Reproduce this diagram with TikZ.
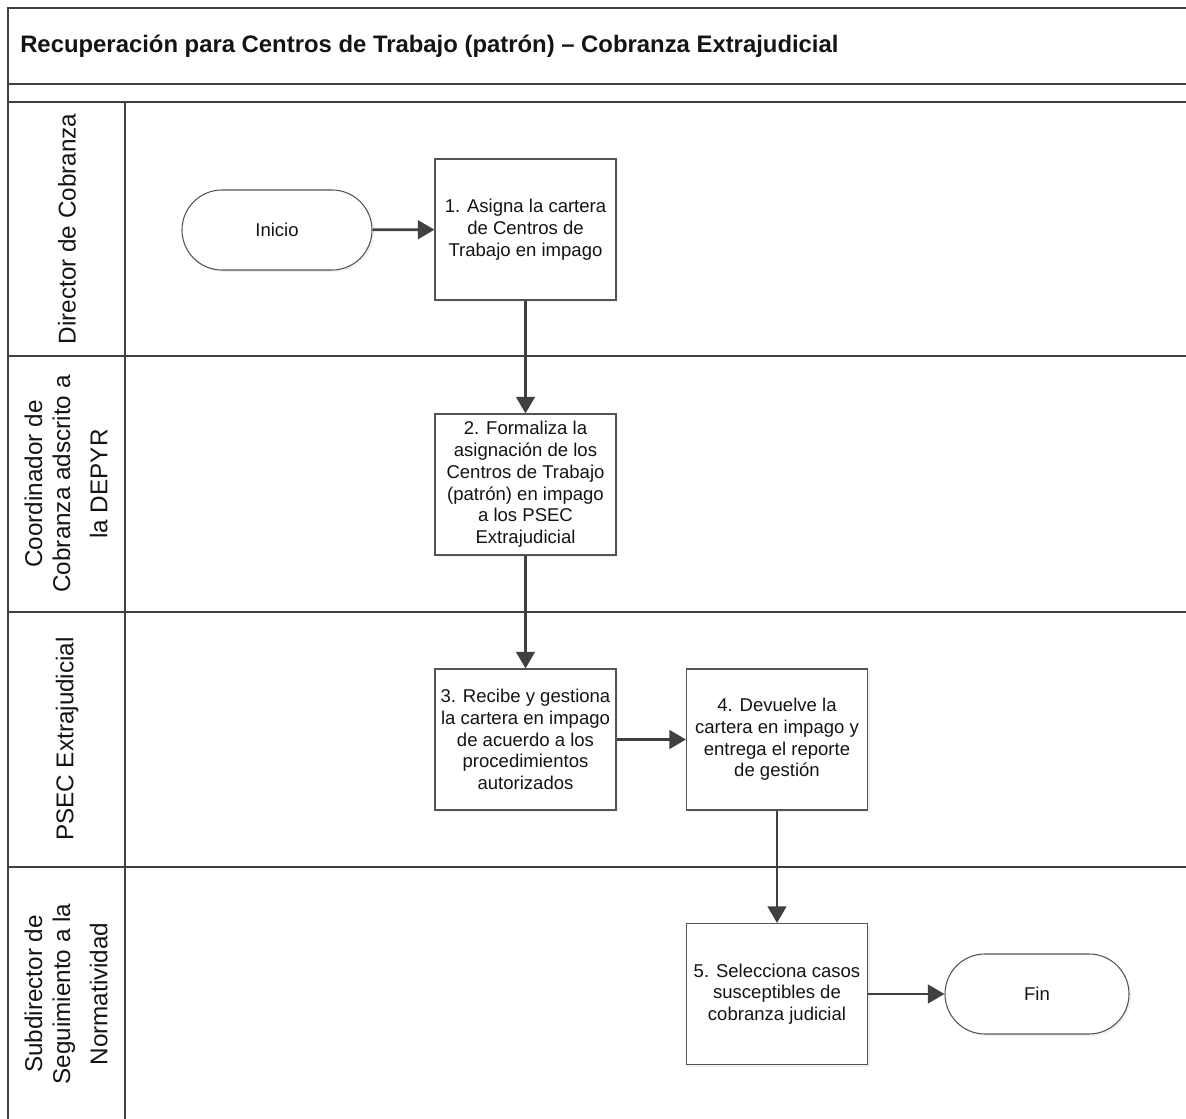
\documentclass[tikz,border=0pt]{standalone}
\usepackage{fontspec}
\setmainfont{Liberation Sans}
\usetikzlibrary{arrows.meta, positioning, shadows}
\definecolor{LaneLine}{RGB}{64, 64, 64}
\definecolor{BoxLine}{RGB}{85, 85, 85}
\definecolor{FlowArrow}{RGB}{64, 64, 64}
\definecolor{TextDark}{RGB}{20, 20, 20}

\begin{document}
\begin{tikzpicture}[x=0.75pt, y=-0.75pt,
    lane/.style={draw=LaneLine, line width=1.6pt},
    lanelabel/.style={rotate=90, align=center, inner sep=0pt, text=TextDark,
      font=\fontsize{18.2}{21}\selectfont},
    paso/.style={draw=BoxLine, fill=white, line width=0.8pt,
      minimum width=135.75pt, minimum height=105.75pt, inner sep=2pt,
      align=center, text=TextDark, font=\fontsize{13.9}{16.3}\selectfont,
      drop shadow={shadow xshift=1.5pt, shadow yshift=-1.5pt, opacity=0.12}},
    terminal/.style={paso, rounded corners=30pt,
      minimum width=142.5pt, minimum height=60pt},
    flujo/.style={draw=FlowArrow, line width=2pt,
      -{Triangle[length=12.5pt, width=14pt]}}
  ]
  \useasboundingbox (0,0) rectangle (1186,1119);

  % marco y carriles
  \draw[lane] (1186,8) -- (8,8) -- (8,1119);
  \draw[lane] (8,84) -- (1186,84);
  \draw[lane] (8,102) -- (1186,102);
  \draw[lane] (125,102) -- (125,1119);
  \foreach \y in {356,612,867}
    \draw[lane] (8,\y) -- (1186,\y);

  \node[anchor=west, inner sep=0pt, text=TextDark,
    font=\bfseries\fontsize{17.9}{21}\selectfont] (titulo) at (20,46)
    {Recuperación para Centros de Trabajo (patrón) – Cobranza Extrajudicial};

  \node[lanelabel] (director) at (67,229) {Director de Cobranza};
  \node[lanelabel] (coordinador) at (66,484)
    {Coordinador de\\Cobranza adscrito a\\[7pt]la DEPYR};
  \node[lanelabel] (psec) at (67,739) {PSEC Extrajudicial};
  \node[lanelabel] (subdirector) at (66,994)
    {Subdirector de\\Seguimiento a la\\[7pt]Normatividad};

  % pasos
  \node[terminal] (inicio) at (277,230) {Inicio};
  \node[paso] (asigna) at (525.5,229.5)
    {1. Asigna la cartera\\de Centros de\\Trabajo en impago};
  \node[paso] (formaliza) at (525.5,484.5)
    {2. Formaliza la\\asignación de los\\Centros de Trabajo\\(patrón) en impago\\a los PSEC\\Extrajudicial};
  \node[paso] (recibe) at (525.5,739.5)
    {3. Recibe y gestiona\\la cartera en impago\\de acuerdo a los\\procedimientos\\autorizados};
  \node[paso] (devuelve) at (777,739.5)
    {4. Devuelve la\\cartera en impago y\\entrega el reporte\\de gestión};
  \node[paso] (selecciona) at (777,994)
    {5. Selecciona casos\\susceptibles de\\cobranza judicial};
  \node[terminal, minimum width=138pt] (fin) at (1037,994) {Fin};

  % flujo
  \draw[flujo] (inicio) -- (asigna);
  \draw[flujo] (asigna) -- (formaliza);
  \draw[flujo] (formaliza) -- (recibe);
  \draw[flujo] (recibe) -- (devuelve);
  \draw[flujo] (devuelve) -- (selecciona);
  \draw[flujo] (selecciona) -- (fin);
\end{tikzpicture}
\end{document}
